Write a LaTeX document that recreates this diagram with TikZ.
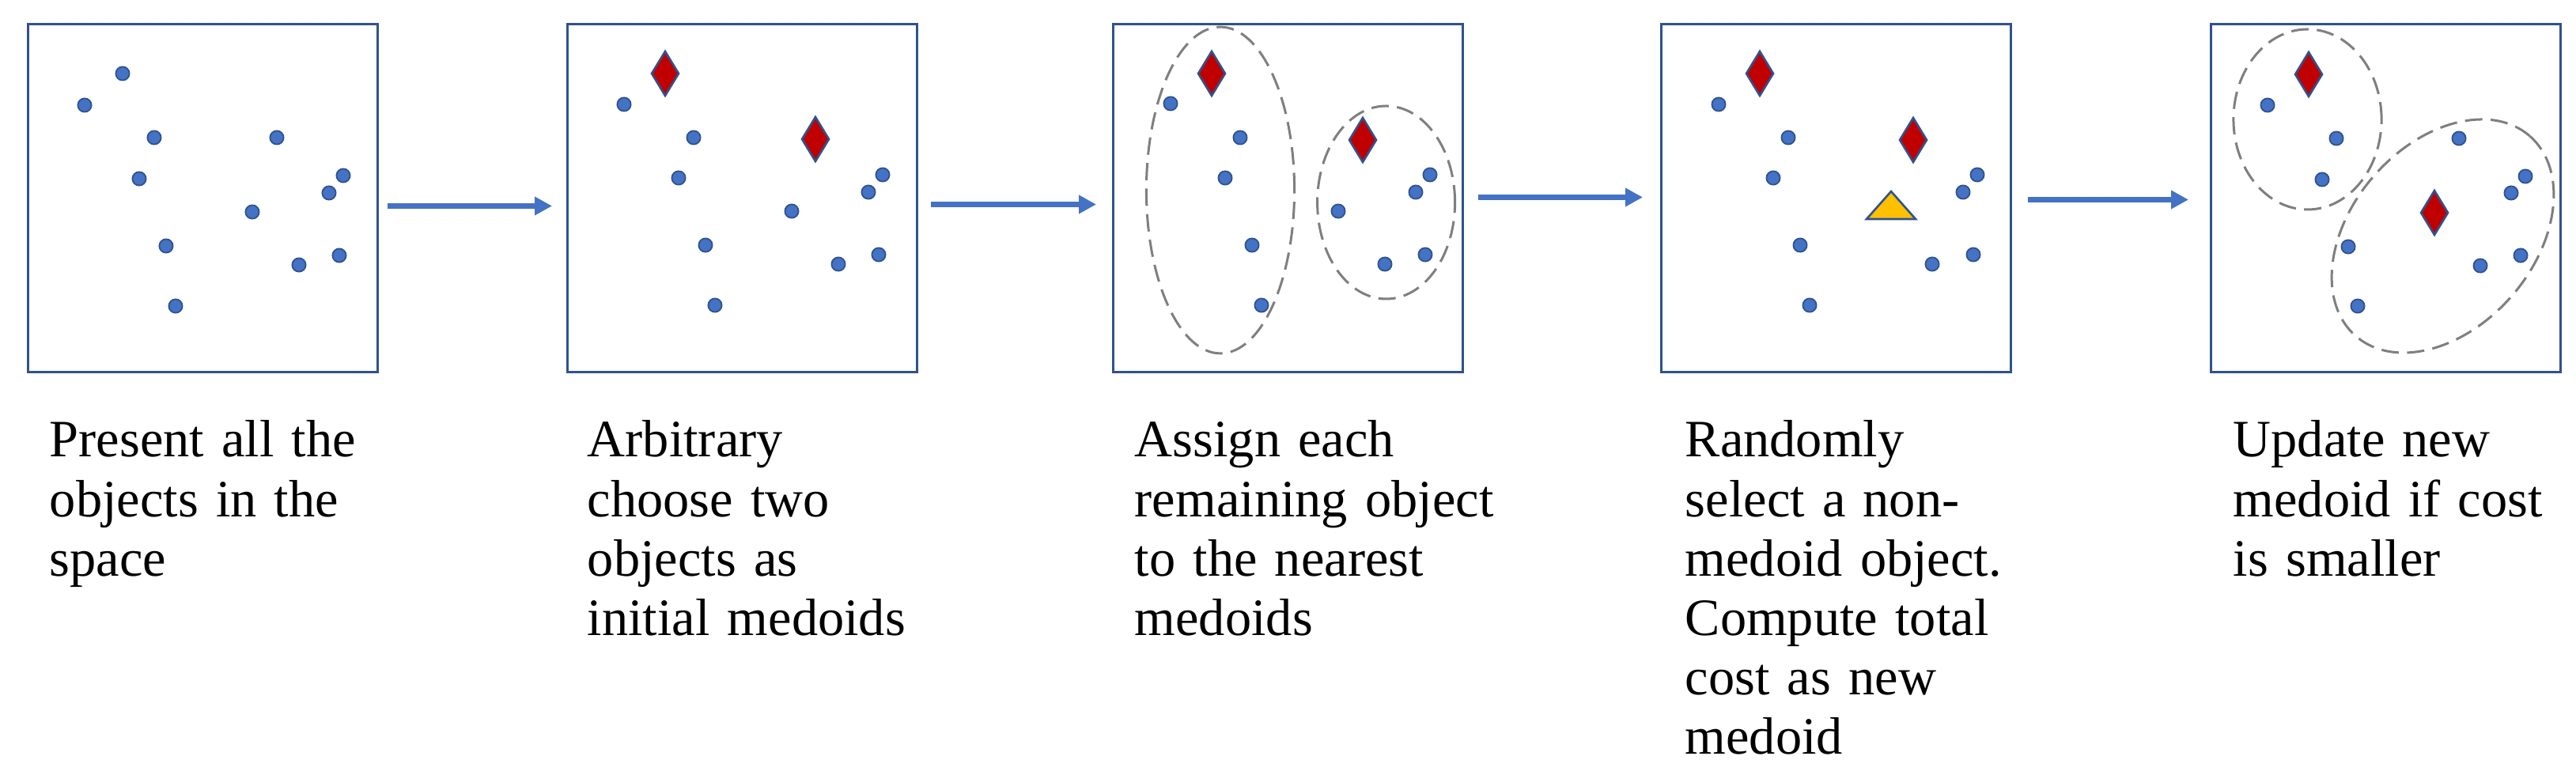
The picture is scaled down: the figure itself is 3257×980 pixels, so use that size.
\documentclass[tikz,border=0pt]{standalone}
\usepackage{fontspec}
\setmainfont{Liberation Serif}
\usetikzlibrary{arrows.meta}
\definecolor{dotfill}{HTML}{4472C4}
\definecolor{dotline}{HTML}{2F528F}
\definecolor{boxline}{HTML}{2F528F}
\definecolor{arrowcol}{HTML}{4472C4}
\definecolor{medoidfill}{HTML}{C00000}
\definecolor{candfill}{HTML}{FFC000}
\definecolor{clustercol}{HTML}{7F7F7F}
\tikzset{
  panel/.style={draw=boxline, line width=0.75pt, rectangle, minimum width=110.5pt, minimum height=110pt, inner sep=0pt, anchor=north west},
  flow/.style={draw=arrowcol, line width=1.8pt, -{Triangle[length=5.5pt,width=5.6pt]}},
  objdot/.style={fill=dotfill, draw=dotline, line width=0.45pt},
  medoid/.style={fill=medoidfill, draw=dotline, line width=0.65pt, line join=miter},
  cand/.style={fill=candfill, draw=dotline, line width=0.65pt, line join=miter},
  cluster/.style={draw=clustercol, line width=0.75pt, dash pattern=on 5.5pt off 2.6pt},
  caption/.style={anchor=base west, inner sep=0pt, text width=125pt, align=left,
    font=\fontsize{16.6pt}{18.8pt}\selectfont}
}
\newcommand{\mydot}[1]{\filldraw[objdot] #1 circle[radius=2.15pt];}
\newcommand{\mydiamond}[1]{\filldraw[medoid] #1 ++(0,-28) -- ++(17,28) -- ++(-17,28) -- ++(-17,-28) -- cycle;}
\begin{document}
\begin{tikzpicture}[x=0.25pt,y=-0.25pt]
\useasboundingbox (0,0) rectangle (3257,980);
% panels
\node[panel] (b1) at (34,29) {};
\node[panel] (b2) at (716,29) {};
\node[panel] (b3) at (1406,29) {};
\node[panel] (b4) at (2099,29) {};
\node[panel] (b5) at (2794,29) {};
% arrows
\draw[flow, shorten <=2.75pt, shorten >=4.5pt] ([yshift=-2.5pt]b1.east) -- ([yshift=-2.5pt]b2.west);
\draw[flow, shorten <=4pt, shorten >=5pt] ([yshift=-2pt]b2.east) -- ([yshift=-2pt]b3.west);
\draw[flow, shorten <=4.5pt, shorten >=5.5pt] ([yshift=0.25pt]b3.east) -- ([yshift=0.25pt]b4.west);
\draw[flow, shorten <=5pt, shorten >=6.75pt] ([yshift=-0.5pt]b4.east) -- ([yshift=-0.5pt]b5.west);
% panel 1
\begin{scope}[shift={(34,29)}]
\foreach \p in {(121,64),(73,104),(161,145),(316,145),(142,197),(400,193),(382,215),(285,239),(176,282),(395,294),(344,306),(188,358)} {\mydot{\p}}
\end{scope}
% panel 2
\begin{scope}[shift={(716,29)}]
\foreach \p in {(73,103),(161,145),(142,196),(400,192),(382,214),(285,238),(176,281),(395,293),(344,305),(188,357)} {\mydot{\p}}
\mydiamond{(125,64)}
\mydiamond{(315,147)}
\end{scope}
% panel 3
\begin{scope}[shift={(1406,29)}]
\draw[cluster] (137,211.5) ellipse[x radius=23.4pt, y radius=51.6pt];
\draw[cluster] (346.6,227) ellipse[x radius=21.75pt, y radius=30.5pt];
\foreach \p in {(74,102),(162,145),(143,196),(402,192),(384,214),(286,238),(177,281),(396,293),(345,305),(189,357)} {\mydot{\p}}
\mydiamond{(126,64)}
\mydiamond{(317,148)}
\end{scope}
% panel 4
\begin{scope}[shift={(2099,29)}]
\foreach \p in {(74,103),(162,145),(143,196),(401,192),(383,214),(177,281),(396,293),(344,305),(189,357)} {\mydot{\p}}
\mydiamond{(126,64)}
\mydiamond{(320,148)}
\filldraw[cand] (292,213) -- (323,248) -- (261,248) -- cycle;
\end{scope}
% panel 5
\begin{scope}[shift={(2794,29)}]
\draw[cluster] (123.5,122) ellipse[x radius=23.4pt, y radius=28.5pt];
\draw[cluster, rotate around={49:(294.5,269.5)}] (294.5,269.5) ellipse[x radius=41.9pt, y radius=28.9pt];
\foreach \p in {(73,104),(160,146),(142,198),(315,146),(399,194),(381,215),(175,283),(393,294),(342,307),(187,358)} {\mydot{\p}}
\mydiamond{(125,65)}
\mydiamond{(284,240)}
\end{scope}
% captions
\node[caption] (t1) at (62,578) {Present all the\\objects in the\\space};
\node[caption] (t2) at (742,578) {Arbitrary\\choose two\\objects as\\initial medoids};
\node[caption] (t3) at (1434,578) {Assign each\\remaining object\\to the nearest\\medoids};
\node[caption] (t4) at (2130,578) {Randomly\\select a non-\\medoid object.\\Compute total\\cost as new\\medoid};
\node[caption] (t5) at (2823,578) {Update new\\medoid if cost\\is smaller};
\end{tikzpicture}
\end{document}
